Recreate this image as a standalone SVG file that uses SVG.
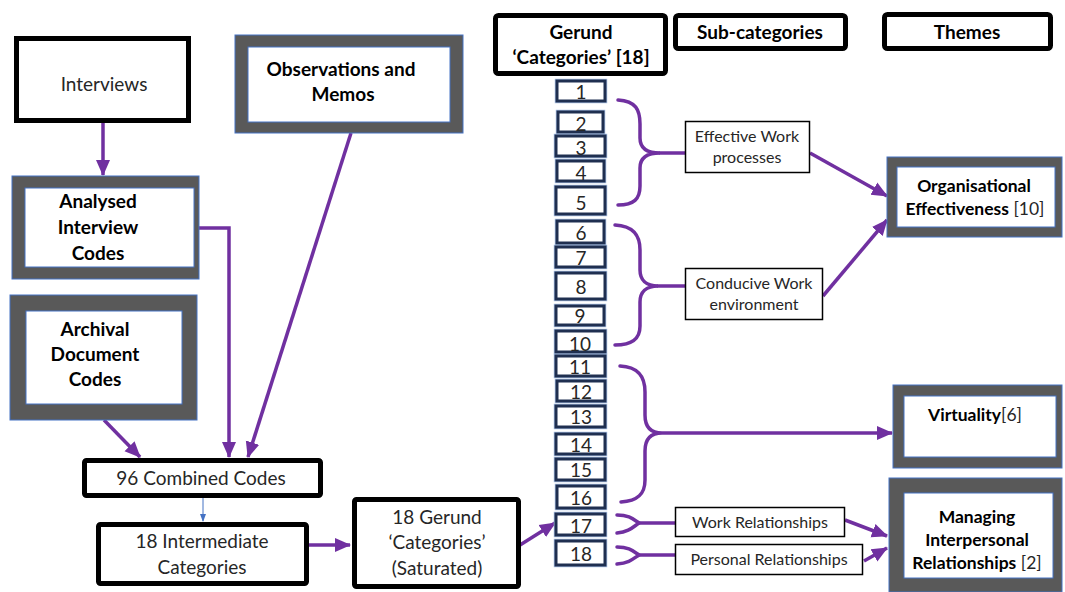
<svg xmlns="http://www.w3.org/2000/svg" width="1065" height="592" viewBox="0 0 1065 592">
  <style>
    text { font-family: Lato, "Noto Sans", "Liberation Sans", sans-serif; fill: #262626; text-anchor: middle; }
    .b { font-weight: bold; fill: #000; }
    .n19 { font-size: 19px; }
    .n16 { font-size: 16px; }
    .n17 { font-size: 17.5px; }
    .num { font-size: 19px; }
    .plain { fill: #fff; stroke: #000; stroke-width: 5; }
    .thin { fill: #fff; stroke: #000; stroke-width: 1.5; }
    .frame { fill: #595959; stroke: #4472c4; stroke-width: 1; }
    .inner { fill: #fff; stroke: #4472c4; stroke-width: 1; }
    .halo { fill: none; stroke: #a9c0e4; stroke-width: 4.5; }
    .nbox { fill: #fff; stroke: #1f2f50; stroke-width: 3; }
    .link { fill: none; stroke: #7030a0; stroke-width: 3.5; }
    .brace { fill: none; stroke: #7030a0; stroke-width: 3.5; stroke-linecap: round; }
  </style>
  <defs>
    <marker id="arrow" markerUnits="userSpaceOnUse" markerWidth="16" markerHeight="16" viewBox="0 0 16 16" refX="15" refY="8" orient="auto">
      <path d="M0,1 L16,8 L0,15 Z" fill="#7030a0"/>
    </marker>
    <marker id="arrowThin" markerUnits="userSpaceOnUse" markerWidth="8" markerHeight="8" viewBox="0 0 8 8" refX="7" refY="4" orient="auto">
      <path d="M0,1 L8,4 L0,7 Z" fill="#4472c4"/>
    </marker>
  </defs>

  <!-- connectors -->
  <g id="connectors">
    <path class="link" d="M103,122 L103,175" marker-end="url(#arrow)"/>
    <path class="link" d="M199,228 L229,228 L229,457" marker-end="url(#arrow)"/>
    <path class="link" d="M351,133 L248,457" marker-end="url(#arrow)"/>
    <path class="link" d="M104,420 L140,457" marker-end="url(#arrow)"/>
    <path d="M203,497 L203,521" stroke="#4472c4" stroke-width="1" fill="none" marker-end="url(#arrowThin)"/>
    <path class="link" d="M308,545 L350,545" marker-end="url(#arrow)"/>
    <path class="link" d="M520,545 L555,523" marker-end="url(#arrow)"/>

    <!-- braces grouping the gerund categories -->
    <path class="brace" d="M618,100 C636,101 640,110 640,124 L640,138 C640,148 647,153 660,153 C647,153 640,158 640,168 L640,186 C640,199 634,205 618,205"/>
    <path class="brace" d="M660,153 L685,153"/>
    <path class="brace" d="M615,225 C634,226 640,236 640,250 L640,270 C640,280 646,286 658,286 C646,286 640,292 640,302 L640,326 C640,339 632,345 615,345"/>
    <path class="brace" d="M658,286 L685,286"/>
    <path class="brace" d="M620,366 C639,367 645,377 645,392 L645,415 C645,426 650,433 662,433 C650,433 645,440 645,451 L645,480 C645,494 638,501 621,502"/>
    <path class="link" d="M662,433 L892,433" marker-end="url(#arrow)"/>
    <path class="brace" d="M617,515 C629,515 633,519 639,523 C633,527 629,532 617,533"/>
    <path class="brace" d="M639,523 L675,523"/>
    <path class="brace" d="M617,547 C629,547 633,551 639,555 C633,559 629,563 617,564"/>
    <path class="brace" d="M639,555 L675,555"/>

    <!-- sub-categories to themes -->
    <path class="link" d="M810,153 L887,196" marker-end="url(#arrow)"/>
    <path class="link" d="M823,296 L887,220" marker-end="url(#arrow)"/>
    <path class="link" d="M845,520 L887,536" marker-end="url(#arrow)"/>
    <path class="link" d="M864,561 L887,548" marker-end="url(#arrow)"/>
  </g>

  <!-- source nodes -->
  <g id="interviews">
    <rect class="plain" x="16.5" y="38.5" width="172" height="82"/>
    <text class="n19" x="104" y="91">Interviews</text>
  </g>
  <g id="analysed-codes">
    <rect class="frame" x="12" y="176" width="187" height="103" stroke="#262626"/>
    <rect class="inner" x="25" y="188" width="169" height="79"/>
    <text class="b n19" x="98" y="208">Analysed</text>
    <text class="b n19" x="98" y="234">Interview</text>
    <text class="b n19" x="98" y="260">Codes</text>
  </g>
  <g id="observations">
    <rect class="frame" x="235" y="35" width="228" height="98"/>
    <rect class="inner" x="248" y="47" width="202" height="75"/>
    <text class="b n19" x="341" y="76">Observations and</text>
    <text class="b n19" x="343" y="101">Memos</text>
  </g>
  <g id="archival-codes">
    <rect class="frame" x="10" y="295" width="187" height="125"/>
    <rect class="inner" x="26" y="311" width="156" height="93"/>
    <text class="b n19" x="95" y="336">Archival</text>
    <text class="b n19" x="95" y="361">Document</text>
    <text class="b n19" x="95" y="386">Codes</text>
  </g>
  <g id="combined-codes">
    <rect class="plain" x="84.5" y="460.5" width="236" height="35" rx="2"/>
    <text class="n19" x="201" y="485">96 Combined Codes</text>
  </g>
  <g id="intermediate">
    <rect class="plain" x="98.5" y="524.5" width="208" height="59" rx="2"/>
    <text class="n19" x="202" y="548">18 Intermediate</text>
    <text class="n19" x="202" y="574">Categories</text>
  </g>
  <g id="saturated">
    <rect class="plain" x="354.5" y="499.5" width="164" height="87" rx="2"/>
    <text class="n19" x="437" y="524">18 Gerund</text>
    <text class="n19" x="437" y="549">‘Categories’</text>
    <text class="n19" x="437" y="575">(Saturated)</text>
  </g>

  <!-- column headers -->
  <g id="header-gerund">
    <rect class="plain" x="495.5" y="15.5" width="170" height="58" rx="3"/>
    <text class="b n19" x="581" y="39">Gerund</text>
    <text class="b n19" x="581" y="64">‘Categories’ [18]</text>
  </g>
  <g id="header-subcategories">
    <rect class="plain" x="675.5" y="15.5" width="170" height="33" rx="3"/>
    <text class="b n19" x="760" y="39">Sub-categories</text>
  </g>
  <g id="header-themes">
    <rect class="plain" x="884.5" y="14.5" width="166" height="34" rx="3"/>
    <text class="b n19" x="967" y="39">Themes</text>
  </g>

  <!-- gerund categories 1-18 -->
  <g id="cat-1"><rect class="halo" x="557" y="81" width="48" height="20"/><rect class="nbox" x="557" y="81" width="48" height="20"/><text class="num" x="581" y="99">1</text></g>
  <g id="cat-2"><rect class="halo" x="558" y="112" width="45" height="20"/><rect class="nbox" x="558" y="112" width="45" height="20"/><text class="num" x="581" y="131">2</text></g>
  <g id="cat-3"><rect class="halo" x="556" y="136" width="49" height="20"/><rect class="nbox" x="556" y="136" width="49" height="20"/><text class="num" x="581" y="155">3</text></g>
  <g id="cat-4"><rect class="halo" x="557" y="161" width="47" height="20"/><rect class="nbox" x="557" y="161" width="47" height="20"/><text class="num" x="581" y="180">4</text></g>
  <g id="cat-5"><rect class="halo" x="556" y="187" width="49" height="27"/><rect class="nbox" x="556" y="187" width="49" height="27"/><text class="num" x="581" y="210">5</text></g>
  <g id="cat-6"><rect class="halo" x="557" y="221" width="47" height="22"/><rect class="nbox" x="557" y="221" width="47" height="22"/><text class="num" x="581" y="240">6</text></g>
  <g id="cat-7"><rect class="halo" x="556" y="247" width="49" height="20"/><rect class="nbox" x="556" y="247" width="49" height="20"/><text class="num" x="581" y="265">7</text></g>
  <g id="cat-8"><rect class="halo" x="556" y="273" width="49" height="26"/><rect class="nbox" x="556" y="273" width="49" height="26"/><text class="num" x="581" y="294">8</text></g>
  <g id="cat-9"><rect class="halo" x="556" y="306" width="48" height="19"/><rect class="nbox" x="556" y="306" width="48" height="19"/><text class="num" x="580" y="323">9</text></g>
  <g id="cat-10"><rect class="halo" x="556" y="331" width="49" height="21"/><rect class="nbox" x="556" y="331" width="49" height="21"/><text class="num" x="580" y="351">10</text></g>
  <g id="cat-11"><rect class="halo" x="556" y="356" width="49" height="20"/><rect class="nbox" x="556" y="356" width="49" height="20"/><text class="num" x="580" y="374">11</text></g>
  <g id="cat-12"><rect class="halo" x="557" y="381" width="48" height="20"/><rect class="nbox" x="557" y="381" width="48" height="20"/><text class="num" x="581" y="399">12</text></g>
  <g id="cat-13"><rect class="halo" x="556" y="406" width="49" height="21"/><rect class="nbox" x="556" y="406" width="49" height="21"/><text class="num" x="581" y="424">13</text></g>
  <g id="cat-14"><rect class="halo" x="556" y="434" width="49" height="20"/><rect class="nbox" x="556" y="434" width="49" height="20"/><text class="num" x="581" y="452">14</text></g>
  <g id="cat-15"><rect class="halo" x="556" y="459" width="49" height="21"/><rect class="nbox" x="556" y="459" width="49" height="21"/><text class="num" x="581" y="477">15</text></g>
  <g id="cat-16"><rect class="halo" x="557" y="486" width="48" height="22"/><rect class="nbox" x="557" y="486" width="48" height="22"/><text class="num" x="581" y="505">16</text></g>
  <g id="cat-17"><rect class="halo" x="556" y="514" width="49" height="21"/><rect class="nbox" x="556" y="514" width="49" height="21"/><text class="num" x="581" y="533">17</text></g>
  <g id="cat-18"><rect class="halo" x="556" y="541" width="49" height="24"/><rect class="nbox" x="556" y="541" width="49" height="24"/><text class="num" x="581" y="561">18</text></g>

  <!-- sub-categories -->
  <g id="sub-effective-work">
    <rect class="thin" x="685.5" y="121.5" width="124" height="51"/>
    <text class="n16" x="747" y="142">Effective Work</text>
    <text class="n16" x="747" y="163">processes</text>
  </g>
  <g id="sub-conducive-work">
    <rect class="thin" x="685.5" y="268.5" width="137" height="51"/>
    <text class="n16" x="754" y="289">Conducive Work</text>
    <text class="n16" x="754" y="310">environment</text>
  </g>
  <g id="sub-work-relationships">
    <rect class="thin" x="675.5" y="507.5" width="169" height="29"/>
    <text class="n16" x="760" y="528">Work Relationships</text>
  </g>
  <g id="sub-personal-relationships">
    <rect class="thin" x="675.5" y="544.5" width="187" height="30"/>
    <text class="n16" x="769" y="565">Personal Relationships</text>
  </g>

  <!-- themes -->
  <g id="theme-organisational">
    <rect class="frame" x="887" y="157" width="175" height="80"/>
    <rect class="inner" x="897" y="167" width="158" height="60"/>
    <text class="b n17" x="974" y="192">Organisational</text>
    <text class="n17" x="975" y="215"><tspan class="b">Effectiveness</tspan> [10]</text>
  </g>
  <g id="theme-virtuality">
    <rect class="frame" x="893" y="385" width="169" height="83"/>
    <rect class="inner" x="904" y="396" width="152" height="61"/>
    <text class="n17" x="975" y="421"><tspan class="b">Virtuality</tspan>[6]</text>
  </g>
  <g id="theme-interpersonal">
    <rect class="frame" x="889" y="478" width="173" height="114"/>
    <rect class="inner" x="904" y="493" width="149" height="85"/>
    <text class="b n17" x="977" y="523">Managing</text>
    <text class="b n17" x="977" y="546">Interpersonal</text>
    <text class="n17" x="977" y="569"><tspan class="b">Relationships</tspan> [2]</text>
  </g>
</svg>
